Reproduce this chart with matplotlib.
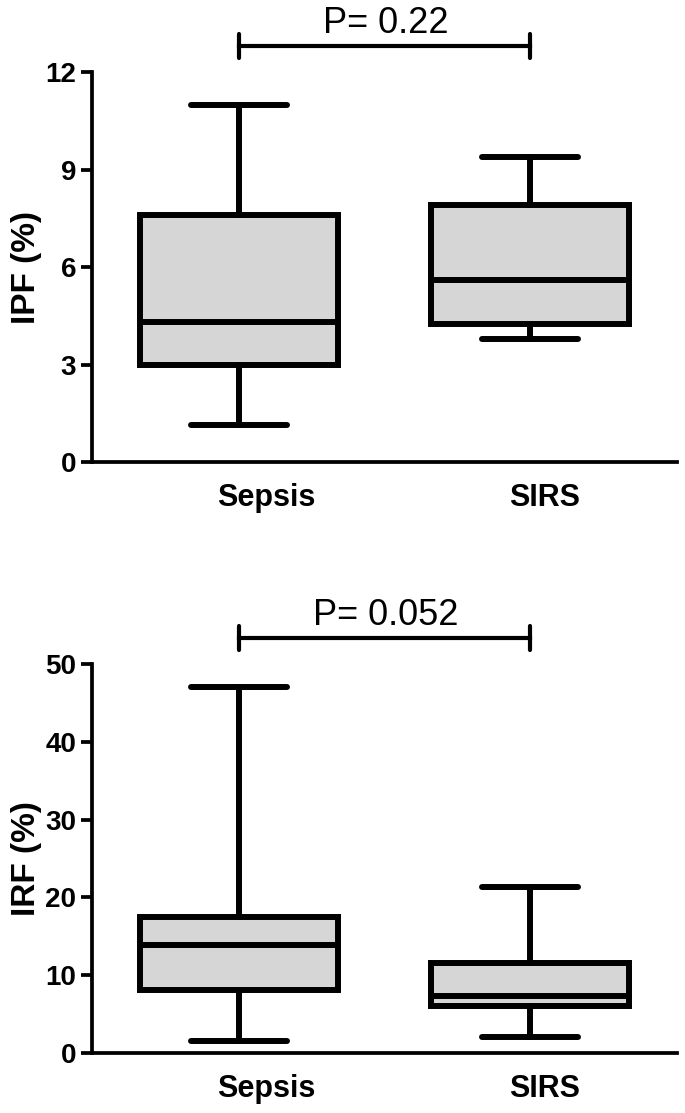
import matplotlib
matplotlib.use("Agg")
import matplotlib.pyplot as plt
import matplotlib.transforms as mtransforms

plt.rcParams['font.family'] = ['Liberation Sans', 'DejaVu Sans']

# %%- data
groups = ['Sepsis', 'SIRS']

# IPF (%) : whisker low, Q1, median, Q3, whisker high
ipf_sepsis = [1.15, 3.0, 4.3, 7.6, 11.0]
ipf_sirs = [3.8, 4.25, 5.6, 7.9, 9.4]
ipf_p = 'P= 0.22'

# IRF (%)
irf_sepsis = [1.6, 8.1, 13.9, 17.5, 47.0]
irf_sirs = [2.0, 6.1, 7.3, 11.6, 21.3]
irf_p = 'P= 0.052'

ipf_ticks = [0, 3, 6, 9, 12]
irf_ticks = [0, 10, 20, 30, 40, 50]


def stats(vals, label):
    lo, q1, med, q3, hi = vals
    return dict(label=label, whislo=lo, q1=q1, med=med, q3=q3, whishi=hi, fliers=[])


def panel(ax, s1, s2, ticks, ylabel, ptext, bar_y, text_y, tick_h):
    lw = 4.3
    ax.bxp([stats(s1, groups[0]), stats(s2, groups[1])], positions=[1, 2],
           widths=0.68, capwidths=0.33, showfliers=False, patch_artist=True,
           boxprops=dict(facecolor='#d6d6d6', edgecolor='black', linewidth=lw),
           medianprops=dict(color='black', linewidth=lw),
           whiskerprops=dict(color='black', linewidth=lw),
           capprops=dict(color='black', linewidth=lw, solid_capstyle='round'))

    ax.set_xlim(0.495, 2.505)
    ax.set_ylim(ticks[0], ticks[-1])
    ax.set_yticks(ticks)
    ax.spines['top'].set_visible(False)
    ax.spines['right'].set_visible(False)
    ax.spines['left'].set_linewidth(2.7)
    ax.spines['bottom'].set_linewidth(2.7)
    ax.tick_params(axis='y', length=8, width=2.7, pad=3.5, labelsize=20)
    ax.tick_params(axis='x', length=0, pad=15, labelsize=22)
    for lab in ax.get_yticklabels():
        lab.set_fontweight('bold')
    offsets = [27, 15]
    for lab, off in zip(ax.get_xticklabels(), offsets):
        lab.set_fontweight('bold')
        lab.set_transform(lab.get_transform() +
                          mtransforms.ScaledTranslation(off / 100.0, 0, ax.figure.dpi_scale_trans))

    # significance bar
    ax.plot([1, 2], [bar_y, bar_y], color='black', lw=3, clip_on=False)
    for x in [1, 2]:
        ax.plot([x, x], [bar_y - tick_h, bar_y + tick_h], color='black', lw=3,
                clip_on=False, solid_capstyle='round')
    ax.text(1.505, text_y, ptext, ha='center', va='baseline', fontsize=26)

    bb = ax.get_position()
    ax.figure.text(26 / 685.0, bb.y0 + bb.height / 2, ylabel, rotation=90,
                   ha='center', va='center', fontsize=24, fontweight='bold')


fig = plt.figure(figsize=(6.85, 11.13), dpi=100)
ax1 = fig.add_axes([0.1343, 0.5849, 0.854, 0.3504])
ax2 = fig.add_axes([0.1343, 0.0539, 0.854, 0.3495])

panel(ax1, ipf_sepsis, ipf_sirs, ipf_ticks, 'IPF (%)', ipf_p, 12.8, 13.2, 0.37)
panel(ax2, irf_sepsis, irf_sirs, irf_ticks, 'IRF (%)', irf_p, 53.3, 55.0, 1.54)

fig.savefig('out.png', dpi=100)
